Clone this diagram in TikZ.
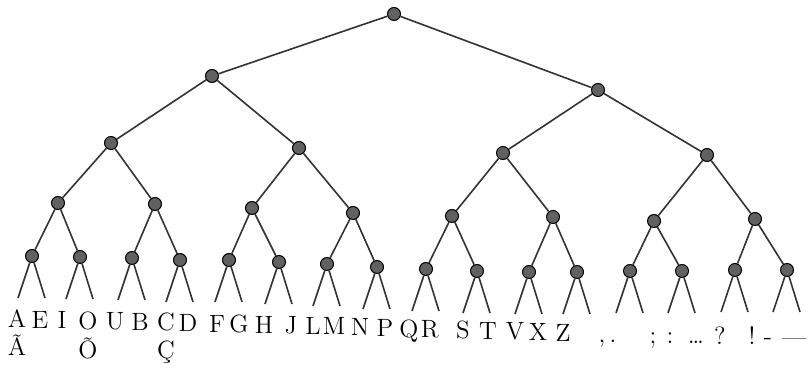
\documentclass[tikz,border=0pt]{standalone}
\usepackage{amsmath,amssymb,tikz}

\tikzset{
  knot/.style={circle, draw=black, fill=black!62, line width=0.5pt, inner sep=0pt, minimum size=6.5pt},
  branch/.style={line width=0.8pt, draw=black!80},
  sign/.style={anchor=base, inner sep=0pt, font=\fontsize{12.5}{14}\selectfont}
}

\begin{document}
\begin{tikzpicture}[x=0.5pt, y=-0.5pt]
\useasboundingbox (0,0) rectangle (808,368);
% inner knots, level by level
\node[knot] (t) at (394,14) {};
\node[knot] (t0) at (212,76) {};
\node[knot] (t1) at (598,90) {};
\node[knot] (t00) at (111,143) {};
\node[knot] (t01) at (299,148) {};
\node[knot] (t10) at (503,153) {};
\node[knot] (t11) at (707,155) {};
\node[knot] (t000) at (58,203) {};
\node[knot] (t001) at (155,204) {};
\node[knot] (t010) at (252,208) {};
\node[knot] (t011) at (353,213) {};
\node[knot] (t100) at (452,216) {};
\node[knot] (t101) at (553,217) {};
\node[knot] (t110) at (654,221) {};
\node[knot] (t111) at (755,219) {};
\node[knot] (t0000) at (32,256) {};
\node[knot] (t0001) at (80,257) {};
\node[knot] (t0010) at (132,258) {};
\node[knot] (t0011) at (180,260) {};
\node[knot] (t0100) at (229,260) {};
\node[knot] (t0101) at (279,262) {};
\node[knot] (t0110) at (327,264) {};
\node[knot] (t0111) at (377,267) {};
\node[knot] (t1000) at (426,269) {};
\node[knot] (t1001) at (477,271) {};
\node[knot] (t1010) at (529,272) {};
\node[knot] (t1011) at (577,272) {};
\node[knot] (t1100) at (630,271) {};
\node[knot] (t1101) at (682,271) {};
\node[knot] (t1110) at (735,270) {};
\node[knot] (t1111) at (787,270) {};
% free ends of the leaves
\coordinate (t00000) at (18,298);  \coordinate (t00001) at (45,298);
\coordinate (t00010) at (66,299);  \coordinate (t00011) at (93,299);
\coordinate (t00100) at (118,300); \coordinate (t00101) at (145,300);
\coordinate (t00110) at (166,302); \coordinate (t00111) at (193,302);
\coordinate (t01000) at (215,302); \coordinate (t01001) at (242,302);
\coordinate (t01010) at (265,304); \coordinate (t01011) at (292,304);
\coordinate (t01100) at (313,306); \coordinate (t01101) at (340,306);
\coordinate (t01110) at (363,309); \coordinate (t01111) at (390,309);
\coordinate (t10000) at (412,311); \coordinate (t10001) at (439,311);
\coordinate (t10010) at (463,313); \coordinate (t10011) at (490,313);
\coordinate (t10100) at (515,314); \coordinate (t10101) at (542,314);
\coordinate (t10110) at (563,314); \coordinate (t10111) at (590,314);
\coordinate (t11000) at (616,313); \coordinate (t11001) at (643,313);
\coordinate (t11010) at (668,313); \coordinate (t11011) at (695,313);
\coordinate (t11100) at (721,312); \coordinate (t11101) at (748,312);
\coordinate (t11110) at (773,312); \coordinate (t11111) at (800,312);
% branches
\draw[branch] (t) -- (t0) (t) -- (t1);
\draw[branch] (t0) -- (t00) (t0) -- (t01) (t1) -- (t10) (t1) -- (t11);
\draw[branch] (t00) -- (t000) (t00) -- (t001) (t01) -- (t010) (t01) -- (t011);
\draw[branch] (t10) -- (t100) (t10) -- (t101) (t11) -- (t110) (t11) -- (t111);
\draw[branch] (t000) -- (t0000) (t000) -- (t0001) (t001) -- (t0010) (t001) -- (t0011);
\draw[branch] (t010) -- (t0100) (t010) -- (t0101) (t011) -- (t0110) (t011) -- (t0111);
\draw[branch] (t100) -- (t1000) (t100) -- (t1001) (t101) -- (t1010) (t101) -- (t1011);
\draw[branch] (t110) -- (t1100) (t110) -- (t1101) (t111) -- (t1110) (t111) -- (t1111);
\draw[branch] (t0000) -- (t00000) (t0000) -- (t00001) (t0001) -- (t00010) (t0001) -- (t00011);
\draw[branch] (t0010) -- (t00100) (t0010) -- (t00101) (t0011) -- (t00110) (t0011) -- (t00111);
\draw[branch] (t0100) -- (t01000) (t0100) -- (t01001) (t0101) -- (t01010) (t0101) -- (t01011);
\draw[branch] (t0110) -- (t01100) (t0110) -- (t01101) (t0111) -- (t01110) (t0111) -- (t01111);
\draw[branch] (t1000) -- (t10000) (t1000) -- (t10001) (t1001) -- (t10010) (t1001) -- (t10011);
\draw[branch] (t1010) -- (t10100) (t1010) -- (t10101) (t1011) -- (t10110) (t1011) -- (t10111);
\draw[branch] (t1100) -- (t11000) (t1100) -- (t11001) (t1101) -- (t11010) (t1101) -- (t11011);
\draw[branch] (t1110) -- (t11100) (t1110) -- (t11101) (t1111) -- (t11110) (t1111) -- (t11111);
% signs under the leaves
\node[sign] (sA) at (17,328) {A};
\node[sign] (sAt) at (17,356) {Ã};
\node[sign] (sE) at (40,329) {E};
\node[sign] (sI) at (62,329) {I};
\node[sign] (sO) at (88,330) {O};
\node[sign] (sOt) at (88,358) {Õ};
\node[sign] (sU) at (115,330) {U};
\node[sign] (sB) at (140,331) {B};
\node[sign] (sC) at (166,331) {C};
\node[sign] (sCc) at (166,359) {Ç};
\node[sign] (sD) at (188,332) {D};
\node[sign] (sF) at (217,333) {F};
\node[sign] (sG) at (239,333) {G};
\node[sign] (sH) at (264,334) {H};
\node[sign] (sJ) at (291,334) {J};
\node[sign] (sL) at (313,335) {L};
\node[sign] (sM) at (334,335) {M};
\node[sign] (sN) at (360,336) {N};
\node[sign] (sP) at (385,337) {P};
\node[sign] (sQ) at (409,338) {Q};
\node[sign] (sR) at (430,338) {R};
\node[sign] (sS) at (463,339) {S};
\node[sign] (sT) at (488,340) {T};
\node[sign] (sV) at (515,340) {V};
\node[sign] (sX) at (538,341) {X};
\node[sign] (sZ) at (563,342) {Z};
\node[sign] (scomma) at (602,343) {,};
\node[sign] (sdot) at (613,343) {.};
\node[sign] (ssemi) at (653,344) {;};
\node[sign] (scolon) at (670,344) {:};
\node[sign] (sdots) at (696,344) {\ldots};
\node[sign] (sques) at (720,345) {?};
\node[sign] (sexcl) at (752,345) {!};
\node[sign] (shyph) at (768,345) {-};
\node[sign] (sdash) at (794,346) {---};
\end{tikzpicture}
\end{document}
